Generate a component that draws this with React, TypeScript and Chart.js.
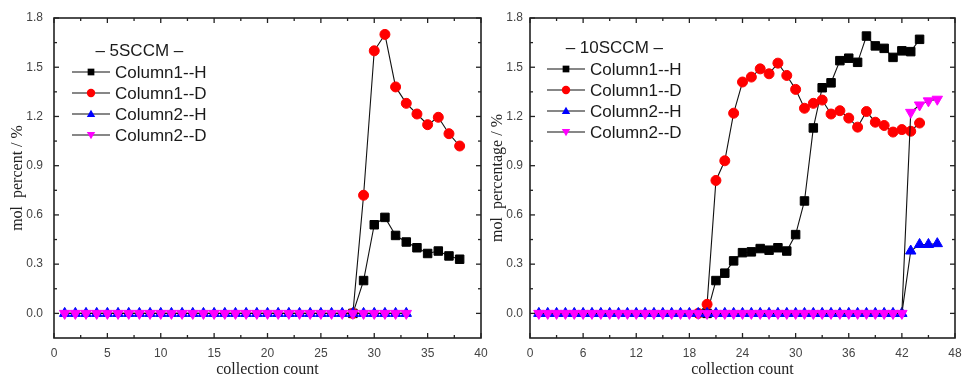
import React, { useEffect, useRef } from "react";
import { Chart, registerables } from "chart.js";

Chart.register(...registerables);

// ---------- Left panel (5SCCM) ----------
const leftCounts = [1, 2, 3, 4, 5, 6, 7, 8, 9, 10, 11, 12, 13, 14, 15, 16, 17, 18, 19, 20, 21, 22, 23, 24, 25, 26, 27, 28, 29, 30, 31, 32, 33, 34, 35, 36, 37, 38];
// null = hidden beneath the Column2 markers on the baseline
const leftC1H = [null, null, null, null, null, null, null, null, null, null, null, null, null, null, null, null, null, null, null, null, null, null, null, null, null, null, null, 0, 0.2, 0.54, 0.585, 0.475, 0.435, 0.4, 0.365, 0.38, 0.35, 0.33];
const leftC1D = [null, null, null, null, null, null, null, null, null, null, null, null, null, null, null, null, null, null, null, null, null, null, null, null, null, null, null, 0, 0.72, 1.6, 1.7, 1.38, 1.28, 1.215, 1.15, 1.195, 1.095, 1.02];
const leftC2H = [0, 0, 0, 0, 0, 0, 0, 0, 0, 0, 0, 0, 0, 0, 0, 0, 0, 0, 0, 0, 0, 0, 0, 0, 0, 0, 0, 0, 0, 0, 0, 0, 0];
const leftC2D = [0, 0, 0, 0, 0, 0, 0, 0, 0, 0, 0, 0, 0, 0, 0, 0, 0, 0, 0, 0, 0, 0, 0, 0, 0, 0, 0, 0, 0, 0, 0, 0, 0];
const leftXTicks = [0, 5, 10, 15, 20, 25, 30, 35, 40];
const leftXMinor = [2.5, 7.5, 12.5, 17.5, 22.5, 27.5, 32.5, 37.5];

// ---------- Right panel (10SCCM) ----------
const rightCounts = [1, 2, 3, 4, 5, 6, 7, 8, 9, 10, 11, 12, 13, 14, 15, 16, 17, 18, 19, 20, 21, 22, 23, 24, 25, 26, 27, 28, 29, 30, 31, 32, 33, 34, 35, 36, 37, 38, 39, 40, 41, 42, 43, 44, 45, 46];
const rightC1H = [null, null, null, null, null, null, null, null, null, null, null, null, null, null, null, null, null, null, null, 0, 0.2, 0.245, 0.32, 0.37, 0.375, 0.395, 0.385, 0.4, 0.38, 0.48, 0.685, 1.13, 1.375, 1.405, 1.54, 1.555, 1.53, 1.69, 1.63, 1.615, 1.56, 1.6, 1.595, 1.67];
const rightC1D = [null, null, null, null, null, null, null, null, null, null, null, null, null, null, null, null, null, null, 0, 0.055, 0.81, 0.93, 1.22, 1.41, 1.44, 1.49, 1.46, 1.525, 1.45, 1.365, 1.25, 1.28, 1.3, 1.215, 1.235, 1.19, 1.135, 1.23, 1.165, 1.145, 1.105, 1.12, 1.11, 1.16];
const rightC2H = [0, 0, 0, 0, 0, 0, 0, 0, 0, 0, 0, 0, 0, 0, 0, 0, 0, 0, 0, 0, 0, 0, 0, 0, 0, 0, 0, 0, 0, 0, 0, 0, 0, 0, 0, 0, 0, 0, 0, 0, 0, 0, 0.38, 0.42, 0.42, 0.425];
const rightC2D = [0, 0, 0, 0, 0, 0, 0, 0, 0, 0, 0, 0, 0, 0, 0, 0, 0, 0, 0, 0, 0, 0, 0, 0, 0, 0, 0, 0, 0, 0, 0, 0, 0, 0, 0, 0, 0, 0, 0, 0, 0, 0, 1.225, 1.27, 1.295, 1.305];
const rightXTicks = [0, 6, 12, 18, 24, 30, 36, 42, 48];
const rightXMinor = [3, 9, 15, 21, 27, 33, 39, 45];

// ---------- Shared ----------
const yTicks = [0, 0.3, 0.6, 0.9, 1.2, 1.5, 1.8];
const yMinor = [0.15, 0.45, 0.75, 1.05, 1.35, 1.65];
const seriesNames = ["Column1--H", "Column1--D", "Column2--H", "Column2--D"];
const seriesColors = ["#000000", "#ff0000", "#0000ff", "#ff00ff"];
const seriesStyles = ["rect", "circle", "triangle", "triangle"];
const seriesRotation = [0, 0, 0, 180];
const seriesRadius = [6, 5, 6, 6];

const LINE_COLOR = "#111111";

function drawMarker(ctx: CanvasRenderingContext2D, style: string, rot: number, x: number, y: number, r: number, color: string) {
  ctx.save();
  ctx.fillStyle = color;
  ctx.beginPath();
  if (style === "rect") {
    const s = r * 0.8;
    ctx.rect(x - s, y - s, 2 * s, 2 * s);
  } else if (style === "circle") {
    ctx.arc(x, y, r, 0, Math.PI * 2);
  } else {
    const dir = rot === 180 ? -1 : 1;
    ctx.moveTo(x, y - dir * r);
    ctx.lineTo(x + r, y + dir * r * 0.7);
    ctx.lineTo(x - r, y + dir * r * 0.7);
    ctx.closePath();
  }
  ctx.fill();
  ctx.restore();
}

const framePlugin = {
  id: "frame",
  afterDatasetsDraw(chart: any, _args: any, opts: any) {
    const { ctx, chartArea } = chart;
    const { left, right, top, bottom } = chartArea;
    const xs = chart.scales.x;
    const ys = chart.scales.y;
    ctx.save();
    ctx.strokeStyle = "#222";
    ctx.lineWidth = 1.6;
    ctx.strokeRect(left, top, right - left, bottom - top);
    ctx.lineWidth = 1.3;
    const seg = (x1: number, y1: number, x2: number, y2: number) => {
      ctx.beginPath();
      ctx.moveTo(x1, y1);
      ctx.lineTo(x2, y2);
      ctx.stroke();
    };
    const maj = 5;
    const min = 3;
    opts.xMajor.forEach((v: number) => {
      const p = xs.getPixelForValue(v);
      seg(p, bottom, p, bottom - maj);
      seg(p, top, p, top + maj);
    });
    opts.xMinor.forEach((v: number) => {
      const p = xs.getPixelForValue(v);
      seg(p, bottom, p, bottom - min);
      seg(p, top, p, top + min);
    });
    opts.yMajor.forEach((v: number) => {
      const p = ys.getPixelForValue(v);
      seg(left, p, left + maj, p);
      seg(right, p, right - maj, p);
    });
    opts.yMinor.forEach((v: number) => {
      const p = ys.getPixelForValue(v);
      seg(left, p, left + min, p);
      seg(right, p, right - min, p);
    });
    ctx.restore();
  },
};

const legendPlugin = {
  id: "boxLegend",
  afterDraw(chart: any, _args: any, opts: any) {
    const { ctx, chartArea } = chart;
    const x0 = chartArea.left + opts.dx;
    let y = chartArea.top + opts.dy;
    ctx.save();
    ctx.font = "17px 'Liberation Sans', Arial, sans-serif";
    ctx.fillStyle = "#1a1a1a";
    ctx.textBaseline = "middle";
    ctx.textAlign = "left";
    const lineLen = 38;
    const textX = x0 + lineLen + 5;
    const widest = Math.max(...seriesNames.map((n) => ctx.measureText(n).width));
    const center = (x0 + textX + widest) / 2;
    ctx.textAlign = "center";
    ctx.fillText(opts.title, center, y);
    ctx.textAlign = "left";
    y += opts.step;
    seriesNames.forEach((name, i) => {
      ctx.strokeStyle = LINE_COLOR;
      ctx.lineWidth = 1.2;
      ctx.beginPath();
      ctx.moveTo(x0, y);
      ctx.lineTo(x0 + lineLen, y);
      ctx.stroke();
      drawMarker(ctx, seriesStyles[i], seriesRotation[i], x0 + lineLen / 2, y, 4.2, seriesColors[i]);
      ctx.fillStyle = "#1a1a1a";
      ctx.fillText(name, textX, y + 1);
      y += opts.step;
    });
    ctx.restore();
  },
};

type PanelProps = {
  counts: number[];
  series: (number | null)[][];
  xMax: number;
  xTicks: number[];
  xMinor: number[];
  yTitle: string;
  legendTitle: string;
  axisWidth: number;
  yTitlePad: number;
  yTickPad: number;
  padRight: number;
  legendDx: number;
  legendDy: number;
  width: number;
};

function Panel(props: PanelProps) {
  const ref = useRef<HTMLCanvasElement | null>(null);
  useEffect(() => {
    if (!ref.current) return;
    const datasets = props.series.map((vals, i) => ({
      label: seriesNames[i],
      data: vals.map((v, j) => ({ x: props.counts[j], y: v })),
      borderColor: LINE_COLOR,
      borderWidth: 1.1,
      backgroundColor: seriesColors[i],
      pointBackgroundColor: seriesColors[i],
      pointBorderColor: seriesColors[i],
      pointBorderWidth: 1,
      pointStyle: seriesStyles[i] as any,
      pointRotation: seriesRotation[i],
      pointRadius: seriesRadius[i],
      tension: 0,
      fill: false,
      spanGaps: false,
      order: 3 - i,
    }));
    const tickFont = { family: "'Liberation Sans', Arial, sans-serif", size: 12 };
    const titleFont = { family: "'Liberation Serif', 'Times New Roman', serif", size: 16 };
    const chart = new Chart(ref.current, {
      type: "line",
      data: { datasets },
      options: {
        animation: false,
        responsive: false,
        maintainAspectRatio: false,
        layout: { padding: { top: 18, right: props.padRight, left: 0, bottom: 0 } },
        plugins: {
          legend: { display: false },
          tooltip: { enabled: false },
          frame: { xMajor: props.xTicks, xMinor: props.xMinor, yMajor: yTicks, yMinor: yMinor },
          boxLegend: { title: props.legendTitle, dx: props.legendDx, dy: props.legendDy, step: 21 },
        } as any,
        scales: {
          x: {
            type: "linear",
            min: 0,
            max: props.xMax,
            grid: { display: false, drawTicks: false },
            border: { display: false },
            ticks: {
              autoSkip: false,
              maxRotation: 0,
              padding: 8,
              color: "#444",
              font: tickFont,
              callback: (v: any) => String(v),
            },
            afterBuildTicks: (s: any) => {
              s.ticks = props.xTicks.map((v) => ({ value: v }));
            },
            afterFit: (s: any) => {
              s.height = 41;
              s.paddingLeft = 0;
              s.paddingRight = 0;
            },
            title: {
              display: true,
              text: "collection count",
              color: "#222",
              font: titleFont,
              padding: { top: 0, bottom: 0 },
            },
          },
          y: {
            type: "linear",
            min: -0.15,
            max: 1.8,
            grid: { display: false, drawTicks: false },
            border: { display: false },
            ticks: {
              padding: props.yTickPad,
              color: "#444",
              font: tickFont,
              callback: (v: any) => Number(v).toFixed(1),
            },
            afterBuildTicks: (s: any) => {
              s.ticks = yTicks.map((v) => ({ value: v }));
            },
            afterFit: (s: any) => {
              s.width = props.axisWidth;
              s.paddingTop = 0;
              s.paddingBottom = 0;
            },
            title: {
              display: true,
              text: props.yTitle,
              color: "#222",
              font: titleFont,
              padding: { top: props.yTitlePad, bottom: 0 },
            },
          },
        },
      } as any,
      plugins: [framePlugin, legendPlugin],
    });
    return () => chart.destroy();
  }, []);
  return <canvas ref={ref} width={props.width} height={379} style={{ display: "block", width: props.width, height: 379 }} />;
}

export default function App() {
  return (
    <div style={{ position: "absolute", left: 0, top: 0, width: 962, height: 379, background: "#fff", overflow: "hidden" }}>
      <div style={{ position: "absolute", left: 0, top: 0 }}>
        <Panel
          counts={leftCounts}
          series={[leftC1H, leftC1D, leftC2H, leftC2D]}
          xMax={40}
          xTicks={leftXTicks}
          xMinor={leftXMinor}
          yTitle="mol  percent / %"
          legendTitle="– 5SCCM –"
          axisWidth={54}
          yTitlePad={8}
          yTickPad={11}
          padRight={9}
          legendDx={18}
          legendDy={33}
          width={490}
        />
      </div>
      <div style={{ position: "absolute", left: 484, top: 0 }}>
        <Panel
          counts={rightCounts}
          series={[rightC1H, rightC1D, rightC2H, rightC2D]}
          xMax={48}
          xTicks={rightXTicks}
          xMinor={rightXMinor}
          yTitle="mol  percentage / %"
          legendTitle="– 10SCCM –"
          axisWidth={46}
          yTitlePad={4}
          yTickPad={7}
          padRight={4}
          legendDx={17}
          legendDy={30}
          width={478}
        />
      </div>
    </div>
  );
}
